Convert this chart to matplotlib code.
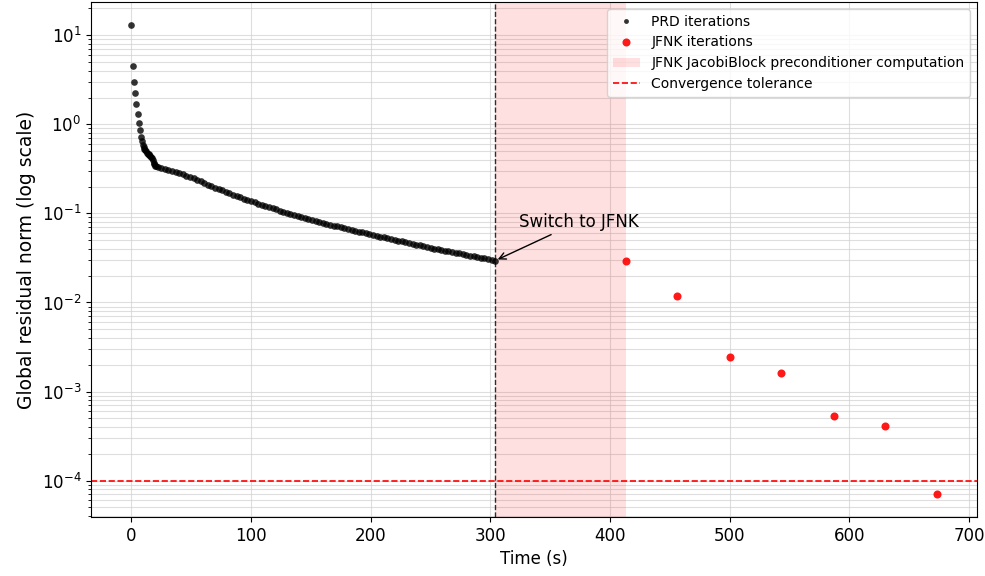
import numpy as np
import matplotlib.pyplot as plt
from matplotlib.patches import Patch
from matplotlib.lines import Line2D

# PRD iterations (time in s, global residual norm)
prd_time = [0, 1.4, 2.3, 3.3, 4.3, 5.4, 6.5, 7.4, 8.2, 8.9, 9.6, 10.3, 11.0, 11.7,
            12.4, 13.1, 13.8, 14.5, 15.2, 15.9, 16.6, 17.3, 18.0, 18.6, 19.2, 19.8, 20.5,
            22, 25, 28, 31, 34, 37, 40, 43, 46, 49, 52, 55, 58, 61, 64,
            67, 70, 73, 76, 79, 82, 85, 88, 91, 94, 97, 100,
            103, 106, 109, 112, 115, 118, 121, 124, 127, 130, 133,
            136, 139, 142, 145, 148,
            151, 154, 157, 160, 163, 166, 169, 172, 175, 178, 181, 184, 187, 190, 193, 196, 199,
            202, 205, 208, 211, 214, 217, 220, 223, 226, 229, 232, 235, 238, 241, 244, 247, 250,
            253, 256, 259, 262, 265, 268, 271, 274, 277, 280, 283, 286, 289, 292, 295, 298, 301,
            304]
prd_res = [12.9, 4.5, 3.0, 2.23, 1.68, 1.30, 1.04, 0.86, 0.73, 0.65, 0.59, 0.55, 0.53, 0.51,
           0.50, 0.48, 0.47, 0.46, 0.45, 0.44, 0.43, 0.42, 0.40, 0.37, 0.355, 0.345, 0.338,
           0.334, 0.325, 0.316, 0.306, 0.298, 0.290, 0.282, 0.275, 0.265, 0.256, 0.247, 0.238, 0.229, 0.220, 0.211,
           0.202, 0.195, 0.188, 0.182, 0.175, 0.169, 0.163, 0.158, 0.152, 0.147, 0.142, 0.137,
           0.133, 0.129, 0.125, 0.121, 0.118, 0.114, 0.111, 0.107, 0.104, 0.101, 0.0982,
           0.0953, 0.0927, 0.0902, 0.0879, 0.0855,
           0.0834, 0.0815, 0.0798, 0.0780, 0.0762, 0.0746, 0.0729, 0.0714, 0.0698, 0.0682, 0.0668,
           0.0653, 0.0638, 0.0625, 0.0611, 0.0598, 0.0585,
           0.0571, 0.0560, 0.0548, 0.0537, 0.0526, 0.0515, 0.0505, 0.0494, 0.0484, 0.0474, 0.0465,
           0.0455, 0.0446, 0.0437, 0.0428, 0.0419, 0.0410,
           0.0403, 0.0395, 0.0388, 0.0382, 0.0375, 0.0368, 0.0361, 0.0355, 0.0348, 0.0342, 0.0336,
           0.0330, 0.0324, 0.0318, 0.0312, 0.0306, 0.0301,
           0.0295]

# JFNK iterations
jfnk_time = [413, 456, 500, 543, 587, 630, 673]
jfnk_res = [0.0296, 0.0119, 0.00247, 0.00161, 0.000528, 0.000412, 0.0000715]

switch_time = 304
precond_end = 413
tolerance = 1e-4

fig, ax = plt.subplots(figsize=(9.85, 5.76), dpi=100)
fig.subplots_adjust(left=0.0924, right=0.992, top=0.9965, bottom=0.1024)

ax.axvspan(switch_time, precond_end, color='red', alpha=0.12, lw=0)
ax.plot(prd_time, prd_res, 'o', color='black', alpha=0.8, ms=4.8, mew=0)
ax.plot(jfnk_time, jfnk_res, 'o', color='red', alpha=0.9, ms=5.8, mew=0)
ax.axhline(tolerance, color='red', ls='--', lw=1.2)
ax.axvline(switch_time, color='black', ls='--', lw=1, alpha=0.8)

ax.set_yscale('log')
ax.grid(True, which='both', color='#d0d0d0', alpha=0.7, lw=0.8)
ax.set_axisbelow(True)

ax.annotate('Switch to JFNK', xy=(switch_time, prd_res[-1]), xytext=(324, 0.071),
            fontsize=12, arrowprops=dict(arrowstyle='->', color='black', lw=1))

ax.set_xlabel('Time (s)', fontsize=12)
ax.set_ylabel('Global residual norm (log scale)', fontsize=13.5)
ax.tick_params(axis='both', labelsize=12)

handles = [
    Line2D([], [], marker='o', ls='none', color='black', alpha=0.8, ms=3.5, mew=0),
    Line2D([], [], marker='o', ls='none', color='red', alpha=0.9, ms=5.8, mew=0),
    Patch(color='red', alpha=0.12, lw=0),
    Line2D([], [], color='red', ls='--', lw=1.2),
]
labels = ['PRD iterations', 'JFNK iterations',
          'JFNK JacobiBlock preconditioner computation', 'Convergence tolerance']
ax.legend(handles, labels, loc='upper right', fontsize=10)

fig.savefig('out.png', dpi=100)
